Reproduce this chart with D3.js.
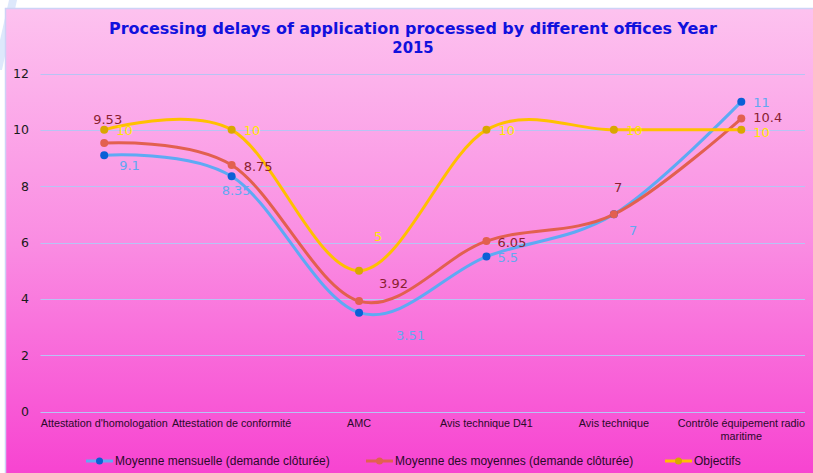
<!DOCTYPE html>
<html>
<head>
<meta charset="utf-8">
<script src="https://cdn.jsdelivr.net/npm/d3@7/dist/d3.min.js"></script>
<style>
    body { margin: 0; background: #ffffff; }
    svg { display: block; }
</style>
</head>
<body>
<svg id="grafico"></svg>
<script>
// ---- data ----
const categorias = [
    "Attestation d'homologation",
    "Attestation de conformité",
    "AMC",
    "Avis technique D41",
    "Avis technique",
    "Contrôle équipement radio maritime"
];
const nomsSeries = [
    "Moyenne mensuelle (demande clôturée)",
    "Moyenne des moyennes (demande clôturée)",
    "Objectifs"
];
const mensuelle = [9.1, 8.35, 3.51, 5.5, 7, 11];
const moyennes  = [9.53, 8.75, 3.92, 6.05, 7, 10.4];
const objectifs = [10, 10, 5, 10, 10, 10];
const ticksY = [0, 2, 4, 6, 8, 10, 12];
const titre = ["Processing delays of application processed by different offices Year", "2015"];

// ---- style (colours, label nudges as placed by hand in the original) ----
const estilos = [
    { ligne: "#5eaaf4", point: "#0a5fd6", texte: "#62a8f2",
      decal: [[15, 10], [-10, 14], [37, 23], [11, 1], [15, 16], [12, 1]] },
    { ligne: "#e2604f", point: "#e2604f", texte: "#8a1f30",
      decal: [[-11, -24], [12, 1], [20, -18], [11, 1], [0, -27], [12, -1]] },
    { ligne: "#ffc000", point: "#d9a700", texte: "#ffe600",
      decal: [[12, 1], [12, 1], [15, -34], [12, 1], [12, 1], [12, 3]] }
];

const ancho = 813, alto = 473;
const svg = d3.select("#grafico").attr("width", ancho).attr("height", alto);

// fondo exterior
svg.append("rect").attr("width", ancho).attr("height", alto).attr("fill", "#ffffff");
svg.append("path").attr("d", "M9,0 L17,0 L2,70 L0,70 L0,40 Z").attr("fill", "#dde8fb");

const defs = svg.append("defs");
const grad = defs.append("linearGradient").attr("id", "fondo")
    .attr("x1", 0).attr("y1", 0).attr("x2", 0).attr("y2", 1);
grad.append("stop").attr("offset", "0%").attr("stop-color", "#fdc2ef");
grad.append("stop").attr("offset", "50%").attr("stop-color", "#fa8ce2");
grad.append("stop").attr("offset", "100%").attr("stop-color", "#f741d0");

svg.append("rect")
    .attr("x", 5.5).attr("y", 8.5).attr("width", ancho).attr("height", alto)
    .attr("fill", "url(#fondo)")
    .attr("stroke", "#cdd3f6").attr("stroke-width", 1.5);

// titulo
svg.append("g").selectAll("text").data(titre).enter().append("text")
    .attr("x", 413).attr("y", (d, i) => 34 + i * 19)
    .attr("text-anchor", "middle")
    .attr("font-family", "Tahoma, 'DejaVu Sans Condensed', 'Liberation Sans', sans-serif")
    .attr("font-weight", "bold").attr("font-size", 16.5)
    .attr("fill", "#1111dd")
    .each(function (d, i) {
        if (i === 0) d3.select(this).attr("textLength", 608).attr("lengthAdjust", "spacingAndGlyphs");
    })
    .text(d => d);

// escalas
const margen = { left: 40.5, right: 805, top: 73.5, bottom: 411.5 };
const x = d3.scaleBand().domain(categorias).range([margen.left, margen.right]);
const y = d3.scaleLinear().domain([0, 12]).range([margen.bottom, margen.top]);
const cx = c => x(c) + x.bandwidth() / 2;

// rejilla
svg.append("g").selectAll("line").data(ticksY).enter().append("line")
    .attr("x1", margen.left).attr("x2", margen.right)
    .attr("y1", d => Math.round(y(d)) + 0.5).attr("y2", d => Math.round(y(d)) + 0.5)
    .attr("stroke", "#b7c4f4").attr("stroke-width", 1);

// eje Y
const ejeY = d3.axisLeft(y).tickValues(ticksY).tickSize(0).tickPadding(0);
const gY = svg.append("g").attr("transform", "translate(29,0)").call(ejeY);
gY.select(".domain").remove();
gY.selectAll("text")
    .attr("font-family", "'DejaVu Sans', Verdana, sans-serif")
    .attr("font-size", 12.5).attr("fill", "#1a1a1a");

// eje X
const ejeX = d3.axisBottom(x).tickSize(0).tickPadding(0);
const gX = svg.append("g").attr("transform", `translate(0,${margen.bottom + 8})`).call(ejeX);
gX.select(".domain").remove();
gX.selectAll("text")
    .attr("font-family", "Tahoma, 'Liberation Sans', Arial, sans-serif")
    .attr("font-size", 10.8).attr("fill", "#2a0a2a")
    .each(function (d) {
        const t = d3.select(this);
        if (d.length > 28) {
            const partes = ["Contrôle équipement radio", "maritime"];
            t.text(null);
            partes.forEach((p, i) => t.append("tspan")
                .attr("x", 0).attr("dy", i === 0 ? "0.71em" : "1.2em").text(p));
        }
    });

// series
const series = [mensuelle, moyennes, objectifs];
const linea = d3.line()
    .x((d, i) => cx(categorias[i]))
    .y(d => y(d))
    .curve(d3.curveCardinal.tension(0));

const capaLineas = svg.append("g");
series.forEach((valores, s) => {
    capaLineas.append("path").datum(valores)
        .attr("d", linea)
        .attr("fill", "none")
        .attr("stroke", estilos[s].ligne)
        .attr("stroke-width", 3)
        .attr("stroke-linecap", "round");
});
series.forEach((valores, s) => {
    svg.append("g").selectAll("circle").data(valores).enter().append("circle")
        .attr("cx", (d, i) => cx(categorias[i]))
        .attr("cy", d => y(d))
        .attr("r", 4)
        .attr("fill", estilos[s].point);
});
series.forEach((valores, s) => {
    svg.append("g").selectAll("text").data(valores).enter().append("text")
        .attr("x", (d, i) => cx(categorias[i]) + estilos[s].decal[i][0])
        .attr("y", (d, i) => y(d) + estilos[s].decal[i][1])
        .attr("dy", "0.35em")
        .attr("font-family", "'DejaVu Sans', Verdana, sans-serif")
        .attr("font-size", 13)
        .attr("fill", estilos[s].texte)
        .text(d => d);
});

// leyenda
const posLeyenda = [86, 366, 665];
const leyenda = svg.append("g").attr("transform", "translate(0,461)");
nomsSeries.forEach((nom, s) => {
    const g = leyenda.append("g").attr("transform", `translate(${posLeyenda[s]},0)`);
    g.append("line").attr("x1", 0).attr("x2", 27).attr("y1", 0).attr("y2", 0)
        .attr("stroke", estilos[s].ligne).attr("stroke-width", 3);
    g.append("circle").attr("cx", 13.5).attr("cy", 0).attr("r", 3.5).attr("fill", estilos[s].point);
    g.append("text").attr("x", 29).attr("y", 0).attr("dy", "0.35em")
        .attr("font-family", "Tahoma, 'Liberation Sans', Arial, sans-serif")
        .attr("font-size", 12).attr("fill", "#2a0a2a")
        .text(nom);
});
</script>
</body>
</html>
